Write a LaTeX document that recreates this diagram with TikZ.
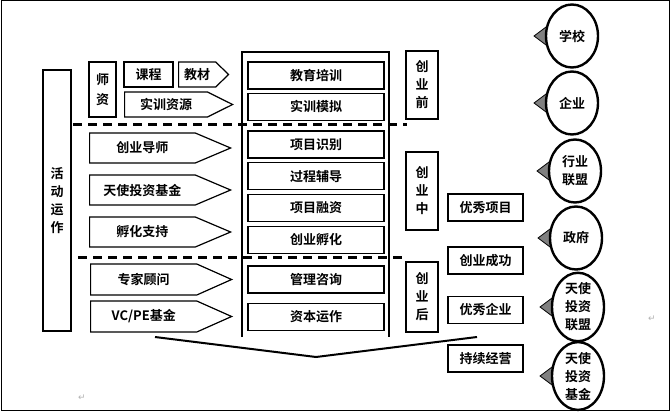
\documentclass[tikz,border=0pt]{standalone}
\usepackage{fontspec}
\setmainfont{Noto Sans CJK SC}[BoldFont={Noto Sans CJK SC Bold}]
\newfontfamily\symfont{DejaVu Sans}
\usetikzlibrary{positioning, shapes.geometric, shapes.symbols}
\tikzset{
  box1/.style = {
    shape = rectangle,
    draw = black,
    line width = 1.2pt,
    inner sep = 0pt,
    minimum width = 136pt,
    minimum height = 27pt,
    font = \fontsize{13}{18}\selectfont\bfseries,
  }
}
\tikzset{
  stage1/.style = {
    box1, align = center, minimum width = 32pt,
  }
}
\tikzset{
  sig1/.style = {
    shape = signal, signal to = east,
    draw = black, line width = 1.2pt,
    inner sep = 0pt, anchor = west,
    minimum width = 141pt, minimum height = 30pt,
    font = \fontsize{13}{18}\selectfont\bfseries,
  }
}
\tikzset{
  org1/.style = {
    shape = ellipse, draw = black, fill = white,
    line width = 2.4pt, inner sep = 0pt,
    minimum width = 52pt, minimum height = 63pt,
    align = center,
    font = \fontsize{13}{18}\selectfont\bfseries,
  }
}
\tikzset{
  tri1/.style = {
    fill = gray, draw = black, line width = 0.8pt,
  }
}
\tikzset{
  dash1/.style = {
    draw = black, line width = 3pt, dash pattern = on 9pt off 6pt,
  }
}

\begin{document}
\begin{tikzpicture}[x = 1pt, y = -1pt]
  \useasboundingbox (0,0) rectangle (671,412);
  \draw[line width = 1pt] (1,1) rectangle (669,410);

  % left column
  \node[stage1, minimum width = 28pt, minimum height = 261pt](1) at (57,200.5){活\\动\\运\\作};
  \node[stage1, minimum width = 27pt, minimum height = 55pt, font = \fontsize{13}{20}\selectfont\bfseries](2) at (102.5,89.5){师\\资};
  \node[box1, minimum width = 49pt, minimum height = 25pt](3) at (148.5,74.5){课程};
  \node[sig1, minimum width = 50pt, minimum height = 25pt, signal pointer angle = 88](4) at (178,74.5){教材};
  \node[sig1, minimum width = 108pt, minimum height = 25pt, signal pointer angle = 53](5) at (124,104.5){实训资源};
  \node[sig1, signal pointer angle = 46](6) at (89,148){创业导师};
  \node[sig1, signal pointer angle = 46](7) at (89,190){天使投资基金};
  \node[sig1, signal pointer angle = 46](8) at (89,232){孵化支持};
  \node[sig1, minimum height = 31pt, signal pointer angle = 48](9) at (90,279.5){专家顾问};
  \node[sig1, minimum height = 31pt, signal pointer angle = 48](10) at (90,316.5){VC/PE基金};

  % middle column
  \draw[line width = 2pt] (242,337) -- (242,52) -- (389,52) -- (389,337);
  \node[box1](11) at (316,75.5){教育培训};
  \node[box1, below = 3pt of 11](12){实训模拟};
  \node[box1](13) at (316,144.5){项目识别};
  \node[box1, below = 3.5pt of 13](14){过程辅导};
  \node[box1, below = 3.5pt of 14](15){项目融资};
  \node[box1, below = 3.5pt of 15](16){创业孵化};
  \node[box1](17) at (316,279.5){管理咨询};
  \node[box1, below = 9pt of 17](18){资本运作};

  % stages
  \node[stage1, minimum height = 68pt](19) at (422,85){创\\业\\前};
  \node[stage1, minimum height = 78pt](20) at (422,191){创\\业\\中};
  \node[stage1, minimum height = 70pt](21) at (422,297){创\\业\\后};

  % results
  \node[box1, minimum width = 75pt](22) at (485.5,207.5){优秀项目};
  \node[box1, minimum width = 75pt](23) at (485.5,260.5){创业成功};
  \node[box1, minimum width = 75pt](24) at (485.5,310){优秀企业};
  \node[box1, minimum width = 75pt](25) at (485.5,358.5){持续经营};

  % dashed separators
  \coordinate (d1) at (73,124);
  \coordinate (d2) at (407,124);
  \coordinate (d3) at (78,257);
  \coordinate (d4) at (407,257);
  \draw[dash1](d1) -- (d2);
  \draw[dash1](d3) -- (d4);

  % big arrow
  \coordinate (v1) at (155,337);
  \coordinate (v2) at (316,357);
  \coordinate (v3) at (477,337);
  \draw[line width = 2pt](v1) -- (v2) -- (v3);

  % partners
  \coordinate (c1) at (572,36);
  \filldraw[tri1]([shift = {(-38,0)}]c1) -- ([shift = {(-18,-15)}]c1) -- ([shift = {(-18,15)}]c1) -- cycle;
  \node[org1](26) at (c1){学校};
  \coordinate (c2) at (572,103);
  \filldraw[tri1]([shift = {(-38,0)}]c2) -- ([shift = {(-18,-15)}]c2) -- ([shift = {(-18,15)}]c2) -- cycle;
  \node[org1](27) at (c2){企业};
  \coordinate (c3) at (575,171);
  \filldraw[tri1]([shift = {(-38,0)}]c3) -- ([shift = {(-18,-15)}]c3) -- ([shift = {(-18,15)}]c3) -- cycle;
  \node[org1](28) at (c3){行业\\联盟};
  \coordinate (c4) at (576,238);
  \filldraw[tri1]([shift = {(-38,0)}]c4) -- ([shift = {(-18,-15)}]c4) -- ([shift = {(-18,15)}]c4) -- cycle;
  \node[org1](29) at (c4){政府};
  \coordinate (c5) at (578,307);
  \filldraw[tri1]([shift = {(-38,0)}]c5) -- ([shift = {(-18,-15)}]c5) -- ([shift = {(-18,15)}]c5) -- cycle;
  \node[org1](30) at (c5){天使\\投资\\联盟};
  \coordinate (c6) at (578,376);
  \filldraw[tri1]([shift = {(-38,0)}]c6) -- ([shift = {(-18,-15)}]c6) -- ([shift = {(-18,15)}]c6) -- cycle;
  \node[org1](31) at (c6){天使\\投资\\基金};

  % paragraph marks
  \node[text = gray!60, font = \symfont\fontsize{9}{9}\selectfont](32) at (82,398){↵};
  \node[text = gray!60, font = \symfont\fontsize{9}{9}\selectfont](33) at (652,319){↵};
\end{tikzpicture}
\end{document}
